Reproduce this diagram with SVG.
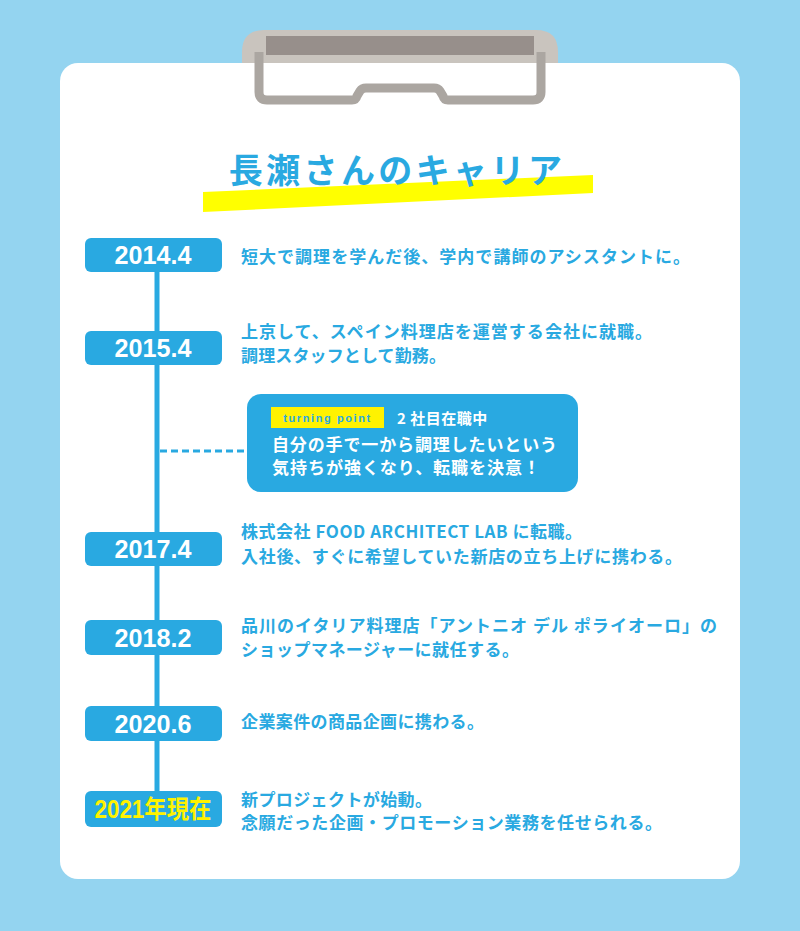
<svg xmlns="http://www.w3.org/2000/svg" width="800" height="931" viewBox="0 0 800 931">
<style>
.date{fill:#29a9e1}
.dt{font-family:"Liberation Sans","Noto Sans CJK JP",sans-serif;font-weight:bold;font-size:25px;fill:#fff;text-anchor:middle}
.jp{font-family:"Noto Sans CJK JP",sans-serif;font-weight:bold;font-size:17px;fill:#29a9e1}
.wt{font-family:"Noto Sans CJK JP",sans-serif;font-weight:bold;font-size:17px;fill:#fff}
</style>
<rect x="0" y="0" width="800" height="931" fill="#94d4f0"/>
<g id="clipboard">
<rect x="60" y="63" width="680" height="816" rx="18" fill="#fff"/>
<path d="M242,63 V52 Q242,30 264,30 H536 Q558,30 558,52 V63 Z" fill="#c9c4be"/>
<path d="M259,52 V92 Q259,100 267,100 H352 Q356,100 357,96 L360,91 Q362,88 366,88 H434 Q438,88 440,91 L443,96 Q444,100 448,100 H533 Q541,100 541,92 V52" fill="none" stroke="#aba6a1" stroke-width="9" stroke-linejoin="round"/>
<rect x="266" y="36" width="268" height="19" fill="#978f8b"/>
</g>
<g id="title">
<polygon points="203,192 593,175 593,193 203,212" fill="#ffff00"/>
<text x="397" y="183" text-anchor="middle" font-family="'Noto Sans CJK JP',sans-serif" font-weight="bold" font-size="34" letter-spacing="3.4" fill="#29a9e1">長瀬さんのキャリア</text>
</g>
<g id="connectors">
<line x1="157" y1="260" x2="157" y2="800" stroke="#29a9e1" stroke-width="5"/>
<line x1="160" y1="451" x2="248" y2="451" stroke="#29a9e1" stroke-width="3" stroke-dasharray="7,4"/>
</g>
<g id="n2014">
<rect class="date" x="85" y="238" width="137" height="34" rx="6"/>
<text class="dt" x="153" y="264" textLength="77" lengthAdjust="spacingAndGlyphs">2014.4</text>
<text class="jp" x="241" y="263" textLength="449">短大で調理を学んだ後、学内で講師のアシスタントに。</text>
</g>
<g id="n2015">
<rect class="date" x="85" y="331" width="137" height="34" rx="6"/>
<text class="dt" x="153" y="357" textLength="77" lengthAdjust="spacingAndGlyphs">2015.4</text>
<text class="jp" x="241" y="338" textLength="411">上京して、スペイン料理店を運営する会社に就職。</text>
<text class="jp" x="241" y="362" textLength="205">調理スタッフとして勤務。</text>
</g>
<g id="turning">
<rect x="247" y="394" width="331" height="98" rx="14" fill="#29a9e1"/>
<rect x="271" y="407" width="113" height="21" fill="#fff200"/>
<text x="327.5" y="422" text-anchor="middle" font-family="'Liberation Sans',sans-serif" font-weight="bold" font-size="11" letter-spacing="1.6" fill="#29a9e1">turning point</text>
<text class="wt" x="397" y="424" style="font-size:15px;letter-spacing:0.5px">2 社目在職中</text>
<text class="wt" x="272" y="451" textLength="285">自分の手で一から調理したいという</text>
<text class="wt" x="272" y="474" textLength="268">気持ちが強くなり、転職を決意！</text>
</g>
<g id="n2017">
<rect class="date" x="85" y="532" width="137" height="34" rx="6"/>
<text class="dt" x="153" y="558" textLength="77" lengthAdjust="spacingAndGlyphs">2017.4</text>
<text class="jp" x="241" y="538" textLength="341">株式会社 FOOD ARCHITECT LAB に転職。</text>
<text class="jp" x="241" y="563" textLength="441">入社後、すぐに希望していた新店の立ち上げに携わる。</text>
</g>
<g id="n2018">
<rect class="date" x="85" y="620" width="137" height="35" rx="6"/>
<text class="dt" x="153" y="647" textLength="77" lengthAdjust="spacingAndGlyphs">2018.2</text>
<text class="jp" x="241" y="632" textLength="476">品川のイタリア料理店「アントニオ デル ポライオーロ」の</text>
<text class="jp" x="241" y="656" textLength="278">ショップマネージャーに就任する。</text>
</g>
<g id="n2020">
<rect class="date" x="85" y="706" width="137" height="35" rx="6"/>
<text class="dt" x="153" y="733" textLength="77" lengthAdjust="spacingAndGlyphs">2020.6</text>
<text class="jp" x="241" y="728" textLength="243">企業案件の商品企画に携わる。</text>
</g>
<g id="n2021">
<rect class="date" x="85" y="791" width="137" height="36" rx="6"/>
<text class="dt" x="153" y="818" textLength="117" lengthAdjust="spacingAndGlyphs" style="fill:#fff200">2021年現在</text>
<text class="jp" x="241" y="806" textLength="191">新プロジェクトが始動。</text>
<text class="jp" x="241" y="829" textLength="421">念願だった企画・プロモーション業務を任せられる。</text>
</g>
</svg>
